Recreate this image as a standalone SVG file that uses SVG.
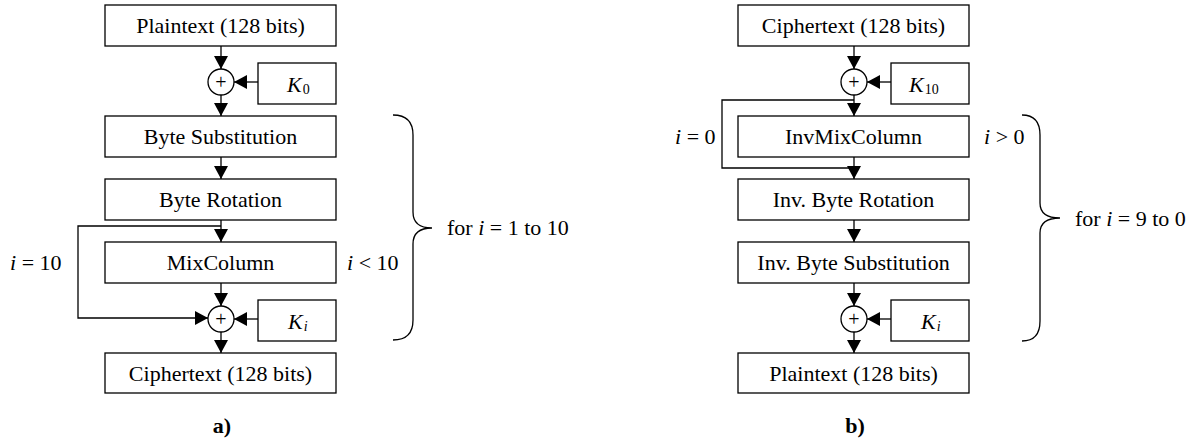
<svg xmlns="http://www.w3.org/2000/svg" width="1194" height="443" viewBox="0 0 1194 443">
<style>
.box{fill:#fff;stroke:#000;stroke-width:1.3}
.xor{fill:#fff;stroke:#000;stroke-width:1.3}
.ln{fill:none;stroke:#000;stroke-width:1.3}
.arr{fill:none;stroke:#000;stroke-width:1.3;marker-end:url(#ah)}
text{font-family:"Liberation Serif","Times New Roman",serif;font-size:22px;fill:#000}
.c{text-anchor:middle}
.it{font-style:italic}
.sub{font-size:14px;font-style:normal}
.sub.it{font-style:italic}
.plus{font-size:20px;text-anchor:middle}
.cap{font-weight:bold;text-anchor:middle}
</style>
<defs>
<marker id="ah" viewBox="0 0 13 14" markerWidth="13" markerHeight="14" refX="13" refY="7" orient="auto" markerUnits="userSpaceOnUse">
<path d="M0,0 L13,7 L0,14 z" fill="#000"/>
</marker>
</defs>
<rect width="1194" height="443" fill="#fff"/>

<g id="connectors">
<line class="arr" x1="221" y1="46" x2="221" y2="69"/>
<line class="arr" x1="258" y1="82" x2="234" y2="82"/>
<line class="arr" x1="221" y1="95" x2="221" y2="116"/>
<line class="arr" x1="221" y1="157" x2="221" y2="179"/>
<line class="arr" x1="221" y1="220" x2="221" y2="242"/>
<polyline class="arr" points="221,226 78,226 78,318 208,318"/>
<line class="arr" x1="221" y1="283" x2="221" y2="306"/>
<line class="arr" x1="258" y1="319" x2="234" y2="319"/>
<line class="arr" x1="221" y1="332" x2="221" y2="353"/>

<line class="arr" x1="854" y1="46" x2="854" y2="69"/>
<line class="arr" x1="891" y1="82" x2="867" y2="82"/>
<line class="arr" x1="854" y1="95" x2="854" y2="116"/>
<polyline class="ln" points="854,100 722,100 722,168 854,168"/>
<line class="arr" x1="854" y1="157" x2="854" y2="179"/>
<line class="arr" x1="854" y1="220" x2="854" y2="242"/>
<line class="arr" x1="854" y1="283" x2="854" y2="306"/>
<line class="arr" x1="891" y1="319" x2="867" y2="319"/>
<line class="arr" x1="854" y1="332" x2="854" y2="353"/>
</g>

<g id="a-plaintext"><rect class="box" x="105" y="5" width="231" height="41"/><text class="c" x="220.5" y="33">Plaintext (128 bits)</text></g>
<g id="a-xor0"><circle class="xor" cx="221" cy="82" r="13"/><text class="plus" x="221" y="88.5">+</text></g>
<g id="a-k0"><rect class="box" x="258" y="63" width="78" height="41"/><text x="287" y="92"><tspan class="it">K</tspan><tspan class="sub" dx="1" dy="2">0</tspan></text></g>
<g id="a-bytesub"><rect class="box" x="105" y="116" width="231" height="41"/><text class="c" x="220.5" y="144">Byte Substitution</text></g>
<g id="a-byterot"><rect class="box" x="105" y="179" width="231" height="41"/><text class="c" x="220.5" y="207">Byte Rotation</text></g>
<g id="a-mixcol"><rect class="box" x="105" y="242" width="231" height="41"/><text class="c" x="220.5" y="270">MixColumn</text></g>
<g id="a-xori"><circle class="xor" cx="221" cy="319" r="13"/><text class="plus" x="221" y="325.5">+</text></g>
<g id="a-ki"><rect class="box" x="258" y="300" width="78" height="41"/><text x="288" y="329"><tspan class="it">K</tspan><tspan class="sub it" dx="1" dy="2">i</tspan></text></g>
<g id="a-ciphertext"><rect class="box" x="105" y="353" width="231" height="40"/><text class="c" x="220.5" y="381">Ciphertext (128 bits)</text></g>
<g id="a-labels">
<text x="10" y="270"><tspan class="it">i</tspan> = 10</text>
<text x="347" y="270"><tspan class="it">i</tspan> &lt; 10</text>
<path class="ln" d="M393,115 Q413,115 413,135 L413,212 Q413,228 432,228 Q413,228 413,244 L413,320 Q413,340 393,340"/>
<text x="447" y="235">for <tspan class="it">i</tspan> = 1 to 10</text>
<text class="cap" x="222" y="433">a)</text>
</g>

<g id="b-ciphertext"><rect class="box" x="738" y="5" width="231" height="41"/><text class="c" x="853.5" y="33">Ciphertext (128 bits)</text></g>
<g id="b-xor10"><circle class="xor" cx="854" cy="82" r="13"/><text class="plus" x="854" y="88.5">+</text></g>
<g id="b-k10"><rect class="box" x="891" y="63" width="78" height="41"/><text x="909" y="92"><tspan class="it">K</tspan><tspan class="sub" dx="1" dy="2">10</tspan></text></g>
<g id="b-invmix"><rect class="box" x="738" y="116" width="231" height="41"/><text class="c" x="853.5" y="144">InvMixColumn</text></g>
<g id="b-invrot"><rect class="box" x="738" y="179" width="231" height="41"/><text class="c" x="853.5" y="207">Inv. Byte Rotation</text></g>
<g id="b-invsub"><rect class="box" x="738" y="242" width="231" height="41"/><text class="c" x="853.5" y="270">Inv. Byte Substitution</text></g>
<g id="b-xori"><circle class="xor" cx="854" cy="319" r="13"/><text class="plus" x="854" y="325.5">+</text></g>
<g id="b-ki"><rect class="box" x="891" y="300" width="78" height="41"/><text x="921" y="329"><tspan class="it">K</tspan><tspan class="sub it" dx="1" dy="2">i</tspan></text></g>
<g id="b-plaintext"><rect class="box" x="738" y="353" width="231" height="40"/><text class="c" x="853.5" y="381">Plaintext (128 bits)</text></g>
<g id="b-labels">
<text x="675" y="144"><tspan class="it">i</tspan> = 0</text>
<text x="984" y="144"><tspan class="it">i</tspan> &gt; 0</text>
<path class="ln" d="M1022,115 Q1040,115 1040,135 L1040,203 Q1040,218 1060,218 Q1040,218 1040,233 L1040,321 Q1040,341 1022,341"/>
<text x="1075" y="226">for <tspan class="it">i</tspan> = 9 to 0</text>
<text class="cap" x="855" y="433">b)</text>
</g>
</svg>
